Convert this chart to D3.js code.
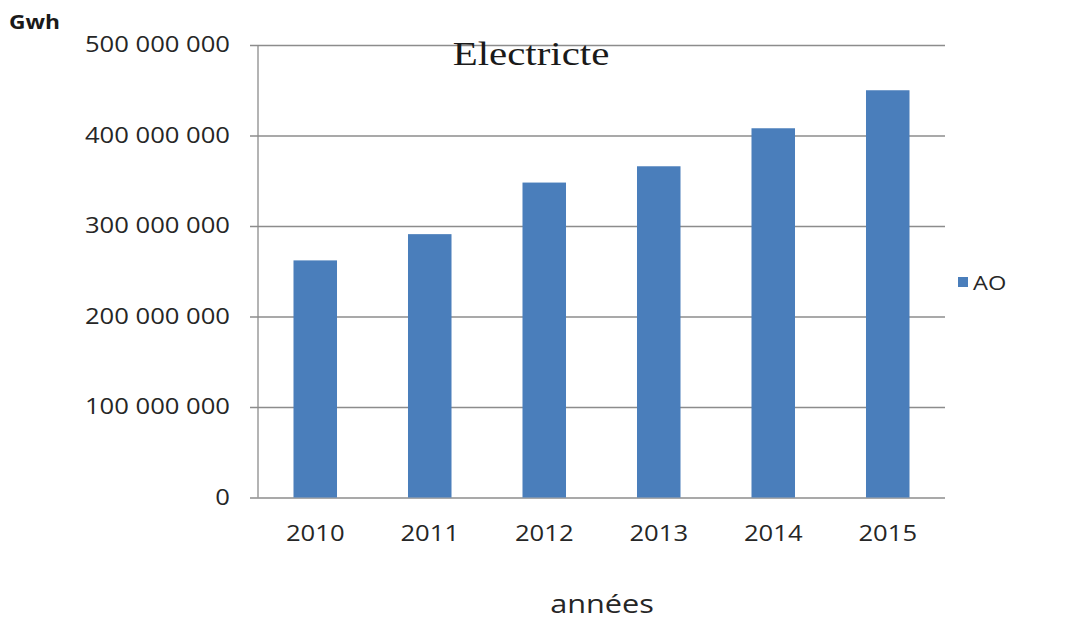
<!DOCTYPE html>
<html>
<head>
<meta charset="utf-8">
<script src="https://cdn.jsdelivr.net/npm/d3@7"></script>
<style>
  body { margin: 0; background: #fff; }
  svg text { font-family: "Open Sans", sans-serif; fill: #262626; }
</style>
</head>
<body>
<div id="chart"></div>
<script>
// data
const years = ["2010", "2011", "2012", "2013", "2014", "2015"];
const aoValues = [262e6, 291e6, 348e6, 366e6, 408e6, 450e6];
const yTicks = [0, 1e8, 2e8, 3e8, 4e8, 5e8];
const seriesName = "AO";
const chartTitle = "Electricte";
const yUnit = "Gwh";
const xTitle = "années";

const width = 1078, height = 623;
const plotL = 258, plotR = 945, plotT = 45, plotB = 497.5;
const barColor = "#4a7ebb", gridColor = "#8c8c8c";
const SX = 1.18; // the source picture is stretched horizontally

const fmt = d3.formatLocale({ decimal: ",", thousands: " ", grouping: [3], currency: ["", ""] }).format(",");

const svg = d3.select("#chart").append("svg")
    .attr("width", width).attr("height", height);

const x = d3.scaleBand().domain(years).range([plotL, plotR])
    .paddingInner(0.62).paddingOuter(0.31);
const y = d3.scaleLinear().domain([0, 5e8]).range([plotB, plotT]);

// stretch a text around its anchor point
function stretch(sel, k) {
    sel.each(function () {
        const t = d3.select(this);
        const tx = +t.attr("x") || 0, ty = +t.attr("y") || 0;
        t.attr("x", 0).attr("y", 0)
            .attr("transform", `translate(${tx},${ty}) scale(${k},1)`);
    });
}

// gridlines + y axis
const yAxis = svg.append("g").attr("transform", `translate(${plotL},0)`)
    .call(d3.axisLeft(y).tickValues(yTicks).tickFormat(fmt).tickSize(8).tickPadding(20));
yAxis.select(".domain").remove();
yAxis.selectAll(".tick line").attr("stroke", gridColor).attr("stroke-width", 1.3)
    .attr("x1", -8).attr("x2", plotR - plotL);
yAxis.selectAll(".tick text").style("font-size", "21px").call(stretch, 1.22);

svg.append("line")
    .attr("x1", plotL).attr("x2", plotL).attr("y1", y(5e8)).attr("y2", y(0))
    .attr("stroke", gridColor).attr("stroke-width", 1.3);

// bars
svg.append("g").selectAll("rect").data(years).join("rect")
    .attr("x", d => x(d))
    .attr("width", x.bandwidth())
    .attr("y", (d, i) => y(aoValues[i]))
    .attr("height", (d, i) => y(0) - y(aoValues[i]))
    .attr("fill", barColor);

// x axis labels
const xAxis = svg.append("g").attr("transform", `translate(0,${plotB})`)
    .call(d3.axisBottom(x).tickSize(0).tickPadding(43));
xAxis.select(".domain").remove();
xAxis.selectAll(".tick text").style("font-size", "21px").attr("dy", 0).call(stretch, 1.22);

// titles
svg.append("text").attr("x", 531).attr("y", 65).attr("text-anchor", "middle")
    .style("font-family", "'Liberation Serif', serif").style("font-size", "33px").style("fill", "#1a1a1a")
    .text(chartTitle).call(stretch, 1.24);

svg.append("text").attr("x", 9).attr("y", 29)
    .style("font-size", "19px").style("font-weight", "bold").style("fill", "#1a1a1a")
    .text(yUnit).call(stretch, 1.2);

svg.append("text").attr("x", 602).attr("y", 613).attr("text-anchor", "middle")
    .style("font-size", "26px")
    .text(xTitle).call(stretch, SX);

// legend
const legend = svg.append("g").attr("transform", "translate(958,277)");
legend.append("rect").attr("width", 10).attr("height", 10).attr("fill", barColor);
legend.append("text").attr("x", 15).attr("y", 13)
    .style("font-size", "20px").text(seriesName).call(stretch, SX);
</script>
</body>
</html>
